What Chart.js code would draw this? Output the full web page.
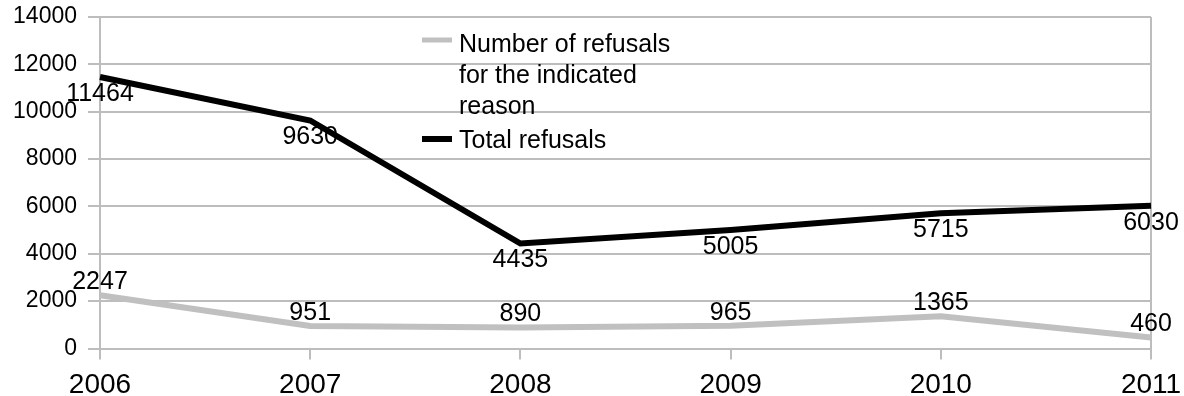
<!DOCTYPE html>
<html>
<head>
<meta charset="utf-8">
<script src="https://cdn.jsdelivr.net/npm/chart.js@4/dist/chart.umd.min.js"></script>
<style>
  html, body { margin: 0; padding: 0; background: #ffffff; }
  #wrap { width: 1184px; height: 396px; position: relative; }
</style>
</head>
<body>
<div id="wrap"><canvas id="chart"></canvas></div>
<script>
// Refusals per year
const years = ['2006', '2007', '2008', '2009', '2010', '2011'];
const reasonRefusals = [2247, 951, 890, 965, 1365, 460];
const totalRefusals = [11464, 9630, 4435, 5005, 5715, 6030];
const seriesNames = ['Number of refusals for the indicated reason', 'Total refusals'];
const yTicks = [0, 2000, 4000, 6000, 8000, 10000, 12000, 14000];

const FONT = '"Liberation Sans", Arial, Helvetica, sans-serif';
const GRID = '#bdbdbd';

// Value labels: total below its line, reason-specific above its line
const valueLabels = {
  id: 'valueLabels',
  afterDatasetsDraw(chart) {
    const ctx = chart.ctx;
    ctx.save();
    ctx.font = '25px ' + FONT;
    ctx.fillStyle = '#000000';
    ctx.textAlign = 'center';
    ctx.textBaseline = 'middle';
    chart.data.datasets.forEach((ds, di) => {
      const meta = chart.getDatasetMeta(di);
      const dy = ds.labelBelow ? 17 : -13;
      meta.data.forEach((pt, i) => {
        ctx.fillText(String(ds.data[i]), pt.x, pt.y + dy);
      });
    });
    ctx.restore();
  }
};

// Legend drawn over the plot area with wrapped entry text
const wrappedLegend = {
  id: 'wrappedLegend',
  afterDraw(chart) {
    const ctx = chart.ctx;
    const maxW = 230;
    const left = 422, swatchW = 30, textX = 459;
    let baseline = 52;
    ctx.save();
    ctx.font = '25px ' + FONT;
    ctx.fillStyle = '#000000';
    ctx.textAlign = 'left';
    ctx.textBaseline = 'alphabetic';
    chart.data.datasets.forEach((ds, di) => {
      const words = ds.label.split(' ');
      const lines = [];
      let cur = '';
      words.forEach(w => {
        const test = cur ? cur + ' ' + w : w;
        if (ctx.measureText(test).width > maxW && cur) {
          lines.push(cur);
          cur = w;
        } else {
          cur = test;
        }
      });
      if (cur) lines.push(cur);
      // swatch
      ctx.strokeStyle = ds.borderColor;
      ctx.lineWidth = di === 0 ? 5 : 6;
      ctx.beginPath();
      const sy = baseline - (di === 0 ? 12 : 9);
      ctx.moveTo(left, sy);
      ctx.lineTo(left + swatchW, sy);
      ctx.stroke();
      lines.forEach((ln, li) => {
        ctx.fillText(ln, textX, baseline + li * 31);
      });
      baseline += (lines.length - 1) * 31 + 34;
    });
    ctx.restore();
  }
};

new Chart(document.getElementById('chart'), {
  type: 'line',
  data: {
    labels: years,
    datasets: [
      {
        label: seriesNames[0],
        data: reasonRefusals,
        borderColor: '#c0c0c0',
        backgroundColor: '#c0c0c0',
        borderWidth: 6,
        pointRadius: 0,
        tension: 0,
        labelBelow: false
      },
      {
        label: seriesNames[1],
        data: totalRefusals,
        borderColor: '#000000',
        backgroundColor: '#000000',
        borderWidth: 6,
        pointRadius: 0,
        tension: 0,
        labelBelow: true
      }
    ]
  },
  options: {
    responsive: true,
    maintainAspectRatio: false,
    animation: false,
    layout: { padding: { top: 17, right: 33, left: 0, bottom: 0 } },
    plugins: {
      legend: { display: false },
      tooltip: { enabled: false }
    },
    scales: {
      x: {
        type: 'category',
        offset: false,
        afterFit(scale) {
          scale.height = 47.5;
          scale.paddingLeft = 0;
          scale.paddingRight = 0;
        },
        grid: {
          color: (c) => (c.index === years.length - 1 ? GRID : 'rgba(0,0,0,0)'),
          tickColor: GRID,
          lineWidth: 2,
          tickLength: 11,
          drawOnChartArea: true
        },
        border: { display: true, color: GRID, width: 2 },
        ticks: {
          color: '#000000',
          font: { family: FONT, size: 28 },
          padding: 9,
          maxRotation: 0,
          autoSkip: false
        }
      },
      y: {
        min: 0,
        max: 14000,
        afterFit(scale) {
          scale.width = 100;
          scale.paddingTop = 0;
          scale.paddingBottom = 0;
        },
        afterBuildTicks(scale) { scale.ticks = yTicks.map(v => ({ value: v })); },
        grid: {
          color: GRID,
          lineWidth: 2,
          tickLength: 12
        },
        border: { display: true, color: GRID, width: 2 },
        ticks: {
          color: '#000000',
          font: { family: FONT, size: 23 },
          padding: 11,
          callback: (v) => String(v)
        }
      }
    }
  },
  plugins: [valueLabels, wrappedLegend]
});
</script>
</body>
</html>
